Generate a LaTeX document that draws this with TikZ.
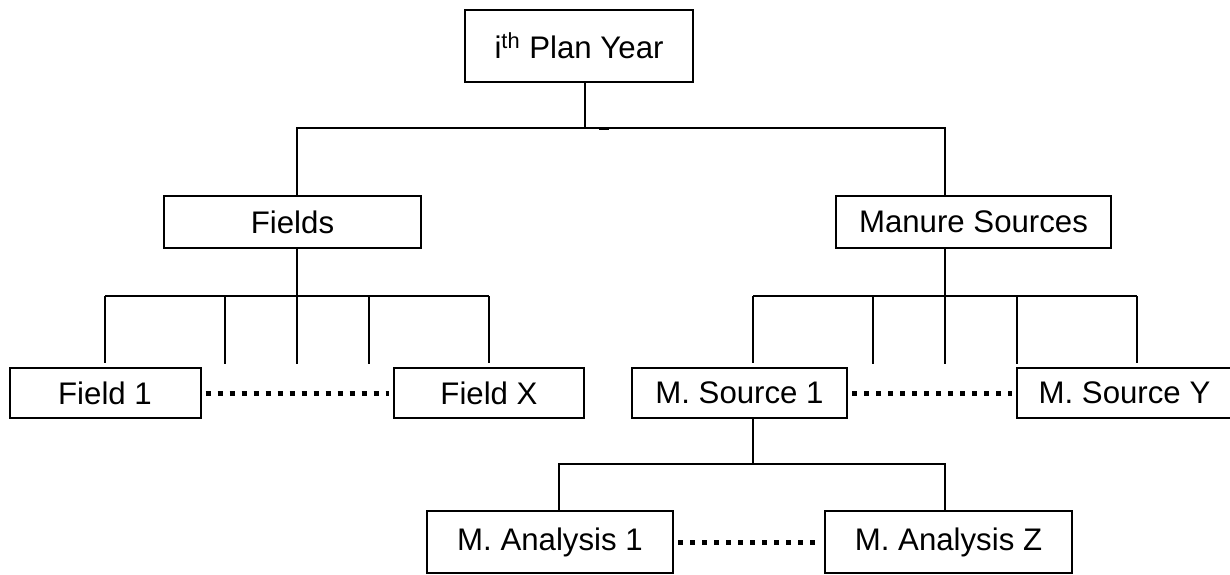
\documentclass[tikz,border=0pt]{standalone}
\usepackage{fontspec}
\setmainfont{Liberation Sans}
\newcommand{\lowtext}[1]{\raisebox{-2pt}{#1}}
\tikzset{
  box/.style={draw, line width=1pt, inner sep=0pt, font=\fontsize{15.6}{17}\selectfont},
  link/.style={line width=0.8pt},
  dots/.style={line width=2.5pt, dash pattern=on 2.5pt off 3.5pt, shorten <=2pt, shorten >=2pt}
}
\begin{document}
\begin{tikzpicture}[x=0.5pt,y=-0.5pt]
        \useasboundingbox (0,0) rectangle (1230,574);
        % boxes
        \node[box, minimum width=114pt, minimum height=36pt] (year) at (579,46) {i\textsuperscript{th} Plan Year};
        \node[box, minimum width=128.5pt, minimum height=26pt] (fields) at (292.5,222) {Fields};
        \node[box, minimum width=137.5pt, minimum height=26pt] (manure) at (973.5,222) {Manure Sources};
        \node[box, minimum width=95.5pt, minimum height=25pt] (field1) at (105,393) {\lowtext{Field 1}};
        \node[box, minimum width=95pt, minimum height=25pt] (fieldX) at (489,393) {\lowtext{Field X}};
        \node[box, minimum width=107.5pt, minimum height=25pt] (source1) at (739.5,393) {\lowtext{M. Source 1}};
        \node[box, minimum width=107.5pt, minimum height=25pt] (sourceY) at (1124.5,393) {\lowtext{M. Source Y}};
        \node[box, minimum width=123pt, minimum height=31pt] (analysis1) at (550,542) {M. Analysis 1};
        \node[box, minimum width=123.5pt, minimum height=31pt] (analysisZ) at (948.5,542) {M. Analysis Z};
        % junctions
        \coordinate (tj) at (585,128);
        \coordinate (fj) at (297,296);
        \coordinate (mj) at (945,296);
        \coordinate (ml) at (753,296);
        \coordinate (mr) at (1137,296);
        \coordinate (sj) at (753,464);
        \coordinate (al) at (559,464);
        \coordinate (ar) at (945,464);
        % top level
        \draw[link] (year.south -| tj) -- (tj);
        \draw[link] (tj) -| (fields.north -| fj);
        \draw[link] (tj) -| (manure.north -| mj);
        \draw[line width=1.5pt] (tj) ++(14,0.5) -- ++(10,0);
        % fields
        \draw[link] (fields.south -| fj) -- (fj);
        \draw[link] (field1.north |- fj) -- (fieldX.north |- fj);
        \draw[link, shorten >=2pt] (field1.north |- fj) -- (field1.north);
        \draw[link, shorten >=2pt] (fieldX.north |- fj) -- (fieldX.north);
        \foreach \x in {225,297,369} {
            \draw[link] (\x,296) -- (\x,364);
        }
        % manure sources
        \draw[link] (manure.south -| mj) -- (mj);
        \draw[link] (ml) -- (mr);
        \draw[link, shorten >=2pt] (ml) -- (source1.north -| ml);
        \draw[link, shorten >=2pt] (mr) -- (sourceY.north -| mr);
        \foreach \x in {873,945,1017} {
            \draw[link] (\x,296) -- (\x,364);
        }
        % analyses
        \draw[link] (source1.south -| sj) -- (sj);
        \draw[link] (analysis1.north -| al) -- (al) -- (ar) -- (analysisZ.north -| ar);
        % dotted gaps
        \draw[dots] (field1) -- (fieldX);
        \draw[dots] (source1) -- (sourceY);
        \draw[dots] (analysis1) -- (analysisZ);
\end{tikzpicture}
\end{document}
